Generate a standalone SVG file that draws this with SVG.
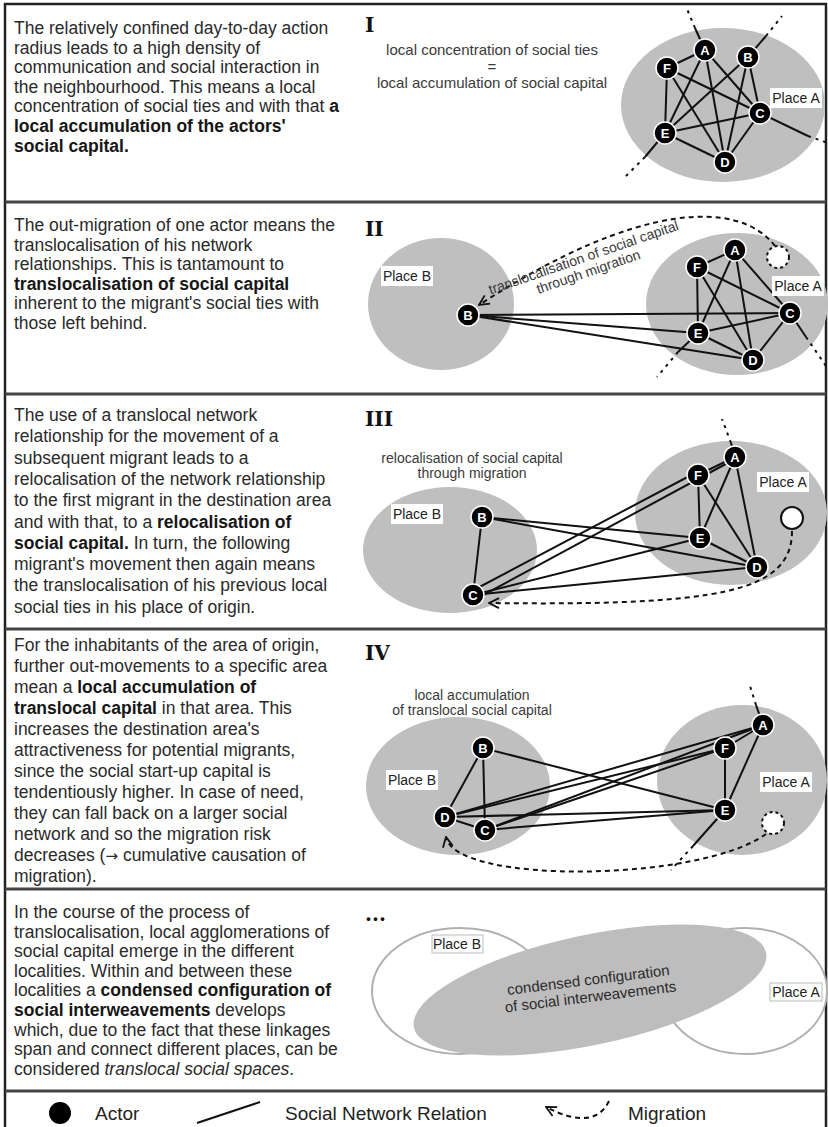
<svg xmlns="http://www.w3.org/2000/svg" width="828" height="1127" viewBox="0 0 828 1127">
<defs>
<marker id="arr" viewBox="0 0 12 12" refX="11" refY="6" markerWidth="12" markerHeight="12" markerUnits="userSpaceOnUse" orient="auto">
<path d="M1,1 L11,6 L1,11" fill="none" stroke="#111" stroke-width="1.8"/>
</marker>
<style>
.body{font-family:"Liberation Sans",Arial,sans-serif;font-size:17.5px;fill:#2a2a2a}
.b{font-weight:bold;fill:#161616}
.num{font-family:"DejaVu Serif","Liberation Serif",serif;font-weight:bold;font-size:20px;fill:#111}
.cap{font-family:"Liberation Sans",Arial,sans-serif;font-size:15px;fill:#3a3a3a;text-anchor:middle}
.place{fill:#bfbfbf}
.ring{fill:#fff;stroke:#b0b0b0;stroke-width:2}
.lbl rect{fill:#fff}
.lbl text{font-family:"Liberation Sans",Arial,sans-serif;font-size:14px;fill:#222;text-anchor:middle}
.lbl2 rect{fill:#fff;stroke:#bbb;stroke-width:1}
.lbl2 text{font-family:"Liberation Sans",Arial,sans-serif;font-size:14px;fill:#222;text-anchor:middle}
.edge{stroke:#111;stroke-width:2;fill:none}
.ext{stroke:#111;stroke-width:2;stroke-dasharray:3,5;fill:none}
.mig{fill:none;stroke:#111;stroke-width:2;stroke-dasharray:5,4;marker-end:url(#arr)}
.node circle{fill:#000;stroke:#fff;stroke-width:1.5}
.node text{font-family:"Liberation Sans",Arial,sans-serif;font-weight:bold;font-size:13px;fill:#fff;text-anchor:middle}
.ghost{fill:#fff;stroke:#111;stroke-width:2;stroke-dasharray:3,3}
.leg{font-family:"Liberation Sans",Arial,sans-serif;font-size:19px;fill:#222}
.sep{stroke:#444;stroke-width:3}
</style>
</defs>
<rect width="828" height="1127" fill="#fff"/>

<!-- frame -->
<g id="frame">
<line x1="4" y1="4" x2="827" y2="4" stroke="#222" stroke-width="2.5"/>
<line x1="5" y1="3" x2="5" y2="1127" stroke="#222" stroke-width="2.5"/>
<line x1="826" y1="3" x2="826" y2="1127" stroke="#222" stroke-width="2.5"/>
<line class="sep" x1="5" y1="202" x2="826" y2="202"/>
<line class="sep" x1="5" y1="394" x2="826" y2="394"/>
<line class="sep" x1="5" y1="629" x2="826" y2="629"/>
<line class="sep" x1="5" y1="889" x2="826" y2="889"/>
<line class="sep" x1="5" y1="1091" x2="826" y2="1091"/>
</g>

<!-- body texts -->
<g id="text1" class="body">
<text x="14" y="34">The relatively confined day-to-day action</text>
<text x="14" y="53.6">radius leads to a high density of</text>
<text x="14" y="73.2">communication and social interaction in</text>
<text x="14" y="92.8">the neighbourhood. This means a local</text>
<text x="14" y="112.4">concentration of social ties and with that <tspan class="b">a</tspan></text>
<text x="14" y="132" class="b">local accumulation of the actors'</text>
<text x="14" y="151.6" class="b">social capital.</text>
</g>
<g id="text2" class="body">
<text x="14" y="231">The out-migration of one actor means the</text>
<text x="14" y="250.6">translocalisation of his network</text>
<text x="14" y="270.2">relationships. This is tantamount to</text>
<text x="14" y="289.8" class="b">translocalisation of social capital</text>
<text x="14" y="309.4">inherent to the migrant's social ties with</text>
<text x="14" y="329">those left behind.</text>
</g>
<g id="text3" class="body">
<text x="14" y="421">The use of a translocal network</text>
<text x="14" y="442.3">relationship for the movement of a</text>
<text x="14" y="463.6">subsequent migrant leads to a</text>
<text x="14" y="484.9">relocalisation of the network relationship</text>
<text x="14" y="506.2">to the first migrant in the destination area</text>
<text x="14" y="527.5">and with that, to a <tspan class="b">relocalisation of</tspan></text>
<text x="14" y="548.8"><tspan class="b">social capital.</tspan> In turn, the following</text>
<text x="14" y="570.1">migrant's movement then again means</text>
<text x="14" y="591.4">the translocalisation of his previous local</text>
<text x="14" y="612.7">social ties in his place of origin.</text>
</g>
<g id="text4" class="body">
<text x="14" y="651">For the inhabitants of the area of origin,</text>
<text x="14" y="672">further out-movements to a specific area</text>
<text x="14" y="693">mean a <tspan class="b">local accumulation of</tspan></text>
<text x="14" y="714"><tspan class="b">translocal capital</tspan> in that area. This</text>
<text x="14" y="735">increases the destination area's</text>
<text x="14" y="756">attractiveness for potential migrants,</text>
<text x="14" y="777">since the social start-up capital is</text>
<text x="14" y="798">tendentiously higher. In case of need,</text>
<text x="14" y="819">they can fall back on a larger social</text>
<text x="14" y="840">network and so the migration risk</text>
<text x="14" y="861">decreases (<tspan font-family="DejaVu Sans, sans-serif" font-size="15px">→</tspan> cumulative causation of</text>
<text x="14" y="882">migration).</text>
</g>
<g id="text5" class="body">
<text x="14" y="918">In the course of the process of</text>
<text x="14" y="937.6">translocalisation, local agglomerations of</text>
<text x="14" y="957.2">social capital emerge in the different</text>
<text x="14" y="976.8">localities. Within and between these</text>
<text x="14" y="996.4">localities a <tspan class="b">condensed configuration of</tspan></text>
<text x="14" y="1016"><tspan class="b">social interweavements</tspan> develops</text>
<text x="14" y="1035.6">which, due to the fact that these linkages</text>
<text x="14" y="1055.2">span and connect different places, can be</text>
<text x="14" y="1074.8">considered <tspan font-style="italic">translocal social spaces</tspan>.</text>
</g>

<!-- numerals -->
<g id="numerals" class="num">
<text x="365" y="32">I</text>
<text x="365" y="236">II</text>
<text x="365" y="426">III</text>
<text x="365" y="660">IV</text>
<text x="365" y="921">...</text>
</g>

<!-- captions -->
<g id="captions" class="cap">
<text x="492" y="55">local concentration of social ties</text>
<text x="492" y="72">=</text>
<text x="492" y="88">local accumulation of social capital</text>
<text x="472" y="463" font-size="14px">relocalisation of social capital</text>
<text x="472" y="478" font-size="14px">through migration</text>
<text x="472" y="700" font-size="14px">local accumulation</text>
<text x="472" y="715" font-size="14px">of translocal social capital</text>
</g>

<!-- places -->
<g id="places">
<ellipse class="place" cx="723" cy="105" rx="102" ry="77"/>
<ellipse class="place" cx="441" cy="304" rx="73" ry="66"/>
<ellipse class="place" cx="737" cy="304" rx="91" ry="71"/>
<ellipse class="place" cx="450" cy="550" rx="87" ry="63"/>
<ellipse class="place" cx="731" cy="513" rx="96" ry="72"/>
<ellipse class="place" cx="458" cy="786" rx="92" ry="69"/>
<ellipse class="place" cx="742" cy="780" rx="85" ry="75"/>
<ellipse class="ring" cx="460" cy="991" rx="88" ry="63"/>
<ellipse class="ring" cx="745" cy="991" rx="82" ry="63"/>
<ellipse cx="590" cy="990" rx="180" ry="55" fill="#bdbdbd" transform="rotate(-12 590 990)"/>
</g>

<!-- connectors -->
<g id="connectors">
<!-- panel I -->
<line class="edge" x1="667" y1="68" x2="705" y2="50"/>
<line class="edge" x1="705" y1="50" x2="665" y2="133"/>
<line class="edge" x1="705" y1="50" x2="725" y2="162"/>
<line class="edge" x1="705" y1="50" x2="760" y2="113"/>
<line class="edge" x1="667" y1="68" x2="760" y2="113"/>
<line class="edge" x1="667" y1="68" x2="725" y2="162"/>
<line class="edge" x1="667" y1="68" x2="665" y2="133"/>
<line class="edge" x1="748" y1="57" x2="665" y2="133"/>
<line class="edge" x1="748" y1="57" x2="725" y2="162"/>
<line class="edge" x1="748" y1="57" x2="760" y2="113"/>
<line class="edge" x1="665" y1="133" x2="760" y2="113"/>
<line class="edge" x1="665" y1="133" x2="725" y2="162"/>
<line class="edge" x1="725" y1="162" x2="760" y2="113"/>
<line class="edge" x1="705" y1="50" x2="695" y2="28"/>
<line class="ext" x1="695" y1="28" x2="687" y2="9"/>
<line class="edge" x1="748" y1="57" x2="766" y2="36"/>
<line class="ext" x1="766" y1="36" x2="782" y2="16"/>
<line class="edge" x1="760" y1="113" x2="808" y2="136"/>
<line class="ext" x1="808" y1="136" x2="828" y2="143"/>
<line class="edge" x1="665" y1="133" x2="645" y2="157"/>
<line class="ext" x1="645" y1="157" x2="624" y2="178"/>
<!-- panel II -->
<line class="edge" x1="697" y1="267" x2="735" y2="250"/>
<line class="edge" x1="735" y1="250" x2="698" y2="333"/>
<line class="edge" x1="735" y1="250" x2="753" y2="360"/>
<line class="edge" x1="735" y1="250" x2="790" y2="313"/>
<line class="edge" x1="697" y1="267" x2="790" y2="313"/>
<line class="edge" x1="697" y1="267" x2="753" y2="360"/>
<line class="edge" x1="697" y1="267" x2="698" y2="333"/>
<line class="edge" x1="698" y1="333" x2="790" y2="313"/>
<line class="edge" x1="698" y1="333" x2="753" y2="360"/>
<line class="edge" x1="753" y1="360" x2="790" y2="313"/>
<line class="edge" x1="468" y1="315" x2="790" y2="313"/>
<line class="edge" x1="468" y1="315" x2="698" y2="333"/>
<line class="edge" x1="468" y1="315" x2="753" y2="360"/>
<line class="edge" x1="790" y1="313" x2="806" y2="337"/>
<line class="ext" x1="806" y1="337" x2="826" y2="366"/>
<line class="edge" x1="698" y1="333" x2="678" y2="352"/>
<line class="ext" x1="678" y1="352" x2="657" y2="377"/>
<path class="mig" d="M775,246 C740,200 640,200 479,305"/>
<!-- panel III -->
<line class="edge" x1="698" y1="475" x2="735" y2="457"/>
<line class="edge" x1="735" y1="457" x2="700" y2="538"/>
<line class="edge" x1="735" y1="457" x2="757" y2="567"/>
<line class="edge" x1="698" y1="475" x2="700" y2="538"/>
<line class="edge" x1="698" y1="475" x2="757" y2="567"/>
<line class="edge" x1="700" y1="538" x2="757" y2="567"/>
<line class="edge" x1="482" y1="517" x2="473" y2="595"/>
<line class="edge" x1="482" y1="517" x2="700" y2="538"/>
<line class="edge" x1="482" y1="517" x2="757" y2="567"/>
<line class="edge" x1="473" y1="595" x2="700" y2="538"/>
<line class="edge" x1="473" y1="595" x2="757" y2="567"/>
<line class="edge" x1="470" y1="592" x2="697" y2="472"/>
<line class="edge" x1="476" y1="599" x2="735" y2="459"/>
<line class="edge" x1="735" y1="457" x2="731" y2="443"/>
<line class="ext" x1="731" y1="443" x2="722" y2="419"/>
<path class="mig" d="M792,531 C792,592 720,606 489,603"/>
<!-- panel IV -->
<line class="edge" x1="483" y1="748" x2="445" y2="817"/>
<line class="edge" x1="483" y1="748" x2="485" y2="830"/>
<line class="edge" x1="483" y1="748" x2="725" y2="810"/>
<line class="edge" x1="445" y1="817" x2="485" y2="830"/>
<line class="edge" x1="445" y1="817" x2="725" y2="810"/>
<line class="edge" x1="485" y1="830" x2="725" y2="810"/>
<line class="edge" x1="445" y1="817" x2="763" y2="725"/>
<line class="edge" x1="445" y1="817" x2="725" y2="748"/>
<line class="edge" x1="485" y1="830" x2="763" y2="725"/>
<line class="edge" x1="485" y1="830" x2="725" y2="748"/>
<line class="edge" x1="725" y1="748" x2="763" y2="725"/>
<line class="edge" x1="725" y1="748" x2="725" y2="810"/>
<line class="edge" x1="763" y1="725" x2="725" y2="810"/>
<line class="edge" x1="763" y1="725" x2="756" y2="705"/>
<line class="ext" x1="756" y1="705" x2="750" y2="686"/>
<line class="edge" x1="725" y1="810" x2="693" y2="846"/>
<line class="ext" x1="693" y1="846" x2="671" y2="870"/>
<path class="mig" d="M766,834 C700,882 455,885 446,837"/>
</g>

<!-- ghost actors -->
<g id="p2-old"><circle class="ghost" cx="778" cy="257" r="11"/></g>
<g id="p3-new"><circle cx="792" cy="518" r="11" fill="#fff" stroke="#111" stroke-width="2"/></g>
<g id="p4-old"><circle class="ghost" cx="773" cy="823" r="11"/></g>

<!-- place labels -->
<g id="labels">
<g class="lbl"><rect x="770" y="88" width="52" height="20"/><text x="796" y="103">Place A</text></g>
<g class="lbl"><rect x="381" y="266" width="52" height="20"/><text x="407" y="281">Place B</text></g>
<g class="lbl"><rect x="772" y="276" width="52" height="20"/><text x="798" y="291">Place A</text></g>
<g class="lbl"><rect x="391" y="504" width="52" height="20"/><text x="417" y="519">Place B</text></g>
<g class="lbl"><rect x="757" y="472" width="52" height="20"/><text x="783" y="487">Place A</text></g>
<g class="lbl"><rect x="386" y="770" width="52" height="20"/><text x="412" y="785">Place B</text></g>
<g class="lbl"><rect x="760" y="772" width="52" height="20"/><text x="786" y="787">Place A</text></g>
<g class="lbl2"><rect x="432" y="935" width="51" height="18"/><text x="457" y="949">Place B</text></g>
<g class="lbl2"><rect x="770" y="983" width="52" height="18"/><text x="796" y="997">Place A</text></g>
</g>

<!-- rotated captions -->
<g id="rotcaps" class="cap">
<g transform="translate(585,262) rotate(-19)">
<text x="0" y="0" style="font-size:14px">translocalisation of social capital</text>
<text x="0" y="15" style="font-size:14px">through migration</text>
</g>
<g transform="translate(589,985) rotate(-7)">
<text x="0" y="0" style="font-size:15px;fill:#2a2a2a">condensed configuration</text>
<text x="0" y="17" style="font-size:15px;fill:#2a2a2a">of social interweavements</text>
</g>
</g>

<!-- nodes panel I -->
<g id="p1-A" class="node"><circle cx="705" cy="50" r="11"/><text x="705" y="54.5">A</text></g>
<g id="p1-B" class="node"><circle cx="748" cy="57" r="11"/><text x="748" y="61.5">B</text></g>
<g id="p1-F" class="node"><circle cx="667" cy="68" r="11"/><text x="667" y="72.5">F</text></g>
<g id="p1-C" class="node"><circle cx="760" cy="113" r="11"/><text x="760" y="117.5">C</text></g>
<g id="p1-E" class="node"><circle cx="665" cy="133" r="11"/><text x="665" y="137.5">E</text></g>
<g id="p1-D" class="node"><circle cx="725" cy="162" r="11"/><text x="725" y="166.5">D</text></g>
<!-- nodes panel II -->
<g id="p2-B" class="node"><circle cx="468" cy="315" r="11"/><text x="468" y="319.5">B</text></g>
<g id="p2-A" class="node"><circle cx="735" cy="250" r="11"/><text x="735" y="254.5">A</text></g>
<g id="p2-F" class="node"><circle cx="697" cy="267" r="11"/><text x="697" y="271.5">F</text></g>
<g id="p2-C" class="node"><circle cx="790" cy="313" r="11"/><text x="790" y="317.5">C</text></g>
<g id="p2-E" class="node"><circle cx="698" cy="333" r="11"/><text x="698" y="337.5">E</text></g>
<g id="p2-D" class="node"><circle cx="753" cy="360" r="11"/><text x="753" y="364.5">D</text></g>
<!-- nodes panel III -->
<g id="p3-A" class="node"><circle cx="735" cy="457" r="11"/><text x="735" y="461.5">A</text></g>
<g id="p3-F" class="node"><circle cx="698" cy="475" r="11"/><text x="698" y="479.5">F</text></g>
<g id="p3-B" class="node"><circle cx="482" cy="517" r="11"/><text x="482" y="521.5">B</text></g>
<g id="p3-E" class="node"><circle cx="700" cy="538" r="11"/><text x="700" y="542.5">E</text></g>
<g id="p3-D" class="node"><circle cx="757" cy="567" r="11"/><text x="757" y="571.5">D</text></g>
<g id="p3-C" class="node"><circle cx="473" cy="595" r="11"/><text x="473" y="599.5">C</text></g>
<!-- nodes panel IV -->
<g id="p4-A" class="node"><circle cx="763" cy="725" r="11"/><text x="763" y="729.5">A</text></g>
<g id="p4-F" class="node"><circle cx="725" cy="748" r="11"/><text x="725" y="752.5">F</text></g>
<g id="p4-B" class="node"><circle cx="483" cy="748" r="11"/><text x="483" y="752.5">B</text></g>
<g id="p4-E" class="node"><circle cx="725" cy="810" r="11"/><text x="725" y="814.5">E</text></g>
<g id="p4-D" class="node"><circle cx="445" cy="817" r="11"/><text x="445" y="821.5">D</text></g>
<g id="p4-C" class="node"><circle cx="485" cy="830" r="11"/><text x="485" y="834.5">C</text></g>

<!-- legend -->
<g id="legend">
<circle cx="60" cy="1113" r="11" fill="#000"/>
<text class="leg" x="95" y="1120">Actor</text>
<line x1="197" y1="1123" x2="260" y2="1102" stroke="#111" stroke-width="2"/>
<text class="leg" x="285" y="1120">Social Network Relation</text>
<path class="mig" d="M609,1101 Q594,1132 546,1107"/>
<text class="leg" x="628" y="1120">Migration</text>
</g>
</svg>
